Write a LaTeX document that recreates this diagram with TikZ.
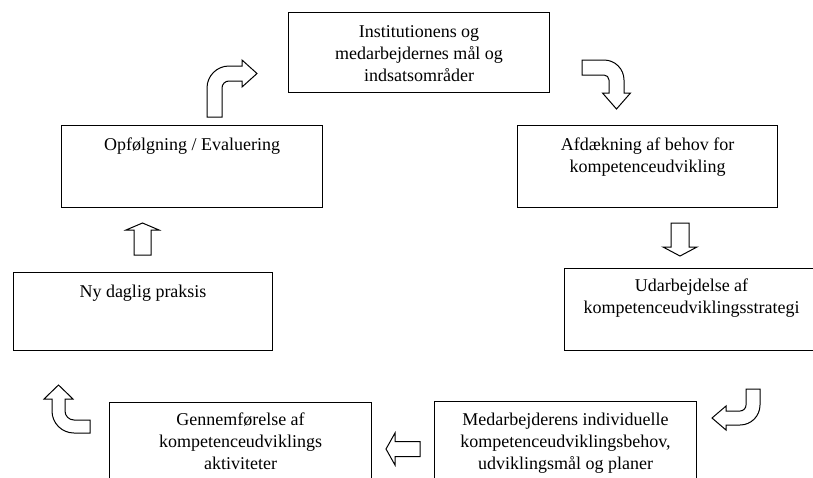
\documentclass[tikz,border=0pt]{standalone}
\usepackage{fontspec}
\setmainfont{Liberation Serif}
\begin{document}
\begin{tikzpicture}[x=1pt,y=-1pt,
  box/.style={draw=black,line width=1pt,rectangle,inner sep=0pt,anchor=north west},
  lbl/.style={align=center,inner sep=0pt,anchor=north,font=\fontsize{18}{22}\selectfont},
  blockarrow/.style={draw=black,line width=1pt,fill=white,line join=miter}]
\useasboundingbox (0,0) rectangle (813,477);
% boxes
\node[box,minimum width=261pt,minimum height=80pt] (inst) at (288,12) {};
\node[box,minimum width=260pt,minimum height=82pt] (afd) at (517,125) {};
\node[box,minimum width=261pt,minimum height=82pt] (opf) at (61,125) {};
\node[box,minimum width=259pt,minimum height=78pt] (ny) at (13,272) {};
\node[box,minimum width=254pt,minimum height=82pt] (uda) at (564,268) {};
\node[box,minimum width=262pt,minimum height=90pt] (med) at (434,401) {};
\node[box,minimum width=262pt,minimum height=90pt] (gen) at (109,402) {};
% labels
\node[lbl] (tinst) at ([yshift=-13pt]inst.north) {Institutionens og\\medarbejdernes mål og\\indsatsområder};
\node[lbl] (tafd) at ([yshift=-13pt]afd.north) {Afdækning af behov for\\kompetenceudvikling};
\node[lbl] (topf) at ([yshift=-13pt]opf.north) {Opfølgning / Evaluering};
\node[lbl] (tny) at ([yshift=-13pt]ny.north) {Ny daglig praksis};
\node[lbl] (tuda) at ([yshift=-11pt]uda.north) {Udarbejdelse af\\kompetenceudviklingsstrategi};
\node[lbl] (tmed) at ([yshift=-12pt]med.north) {Medarbejderens individuelle\\kompetenceudviklingsbehov,\\udviklingsmål og planer};
\node[lbl] (tgen) at ([yshift=-11pt]gen.north) {Gennemførelse af\\kompetenceudviklings\\aktiviteter};
% block arrows
% up-right curved
\draw[blockarrow] (207,117) -- (207,88) .. controls (207,75.85) and (216.85,66) .. (229,66)
  -- (242,66) -- (242,60) -- (257,73.5) -- (242,87) -- (242,81) -- (229,81)
  .. controls (225.13,81) and (222,84.13) .. (222,88) -- (222,117) -- cycle;
% right-down curved
\draw[blockarrow] (582,60) -- (604,60) .. controls (615.05,60) and (624,68.95) .. (624,80)
  -- (624,93) -- (630.5,93) -- (616.5,109) -- (602.5,93) -- (609,93) -- (609,80)
  .. controls (609,77.24) and (606.76,75) .. (604,75) -- (582,75) -- cycle;
% down
\draw[blockarrow] (671,223) -- (689,223) -- (689,247) -- (697,247) -- (680,256) -- (663,247) -- (671,247) -- cycle;
% down-left curved
\draw[blockarrow] (746,389) -- (760,389) -- (760,405) .. controls (760,416.05) and (751.05,425) .. (740,425)
  -- (726,425) -- (726,430) -- (712,418) -- (726,406) -- (726,411) -- (740,411)
  .. controls (743.31,411) and (746,408.31) .. (746,405) -- cycle;
% left
\draw[blockarrow] (420,441.5) -- (395,441.5) -- (395,433) -- (386,449) -- (395,465) -- (395,456.5) -- (420,456.5) -- cycle;
% left-up curved
\draw[blockarrow] (58.5,385) -- (73,399) -- (65,399) -- (65,411) .. controls (65,415.97) and (69.03,420) .. (74,420)
  -- (90,420) -- (90,433) -- (74,433) .. controls (61.85,433) and (52,423.15) .. (52,411)
  -- (52,399) -- (44,399) -- cycle;
% up
\draw[blockarrow] (142.5,223) -- (159,230) -- (151,230) -- (151,255) -- (134,255) -- (134,230) -- (126,230) -- cycle;
\end{tikzpicture}
\end{document}
